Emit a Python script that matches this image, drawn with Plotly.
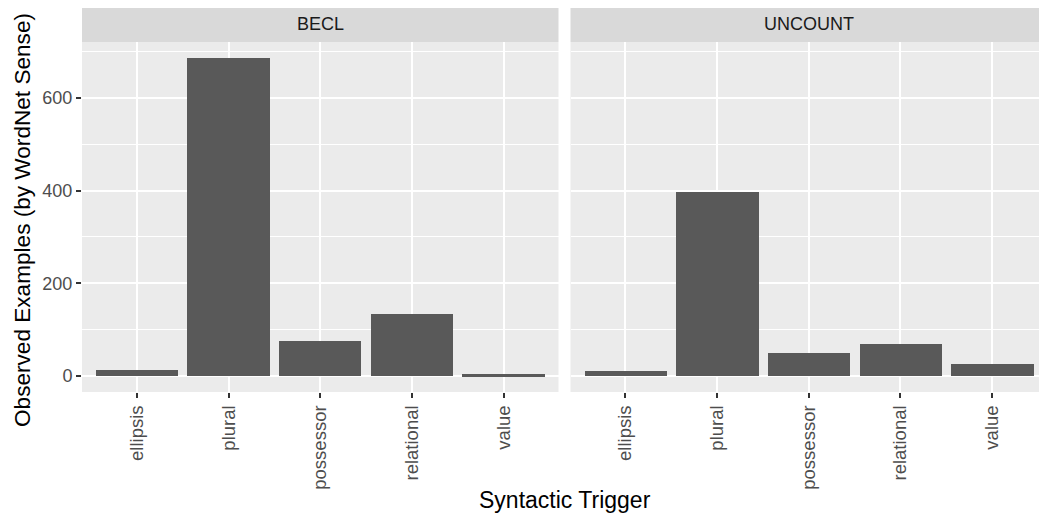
import plotly.graph_objects as go
from plotly.subplots import make_subplots

categories = ["ellipsis", "plural", "possessor", "relational", "value"]
facets = ["BECL", "UNCOUNT"]
becl_values = [14, 686, 76, 133, 4]
uncount_values = [11, 397, 49, 69, 27]
y_ticks = [0, 200, 400, 600]
x_title = "Syntactic Trigger"
y_title = "Observed Examples (by WordNet Sense)"

# page has an 8px body margin: compensate so the figure fills 1047x517
OFF = 8
W, H = 1047 - OFF, 517 - OFF
ML, MR, MT, MB = 82 - OFF, 0, 42 - OFF, 125
pw = W - ML - MR
ph = H - MT - MB

fig = make_subplots(rows=1, cols=2, shared_yaxes=True, horizontal_spacing=12 / pw)

for i, vals in enumerate([becl_values, uncount_values]):
    fig.add_trace(
        go.Bar(x=categories, y=vals, width=0.9, marker=dict(color="#595959", line=dict(width=0)),
               showlegend=False, hoverinfo="x+y"),
        row=1, col=i + 1)

ymax = max(becl_values + uncount_values)
yr = [-0.05 * ymax, 1.05 * ymax]

font_family = "Liberation Sans, Arial, Helvetica, sans-serif"
common_x = dict(
    range=[-0.6, 4.6], showgrid=True, gridcolor="white", gridwidth=2,
    ticks="outside", ticklen=5, tickwidth=2, tickcolor="#333333",
    tickangle=-90, tickfont=dict(size=18.5, color="#4d4d4d", family=font_family),
    showline=False, zeroline=False, fixedrange=True)
fig.update_xaxes(**common_x)
fig.update_yaxes(
    range=yr, tickvals=y_ticks, showgrid=True, gridcolor="white", gridwidth=2,
    minor=dict(dtick=100, tick0=0, showgrid=True, gridcolor="white", gridwidth=1),
    zeroline=False, showline=False,
    tickfont=dict(size=18, color="#4d4d4d", family=font_family), fixedrange=True)
fig.update_yaxes(ticks="outside", ticklen=5, tickwidth=2, tickcolor="#333333", row=1, col=1)
fig.update_yaxes(ticks="", showticklabels=False, row=1, col=2)

shapes = []
annotations = []
doms = [fig.layout.xaxis.domain, fig.layout.xaxis2.domain]
for d, name in zip(doms, facets):
    shapes.append(dict(type="rect", xref="paper", yref="paper", x0=d[0], x1=d[1],
                       y0=1, y1=1 + 36 / ph, fillcolor="#d9d9d9", line=dict(width=0), layer="below"))
    annotations.append(dict(text=name, xref="paper", yref="paper", x=(d[0] + d[1]) / 2,
                            y=1 + 18 / ph, xanchor="center", yanchor="middle", showarrow=False,
                            font=dict(size=18, color="#1a1a1a", family=font_family)))

annotations.append(dict(text=x_title, xref="paper", yref="paper", x=0.5, y=-(108 / ph),
                        xanchor="center", yanchor="middle", showarrow=False,
                        font=dict(size=23, color="black", family=font_family)))
# y title centred at page y ~220
annotations.append(dict(text=y_title, xref="paper", yref="paper", x=(22 - ML - OFF) / pw,
                        y=1 - (220 - MT - OFF) / ph,
                        xanchor="center", yanchor="middle", textangle=-90, showarrow=False,
                        font=dict(size=22.6, color="black", family=font_family)))

fig.update_layout(
    width=W, height=H, margin=dict(l=ML, r=MR, t=MT, b=MB),
    paper_bgcolor="white", plot_bgcolor="#ebebeb", bargap=0,
    shapes=shapes, annotations=annotations, font=dict(family=font_family))

fig.write_html("out.html")
